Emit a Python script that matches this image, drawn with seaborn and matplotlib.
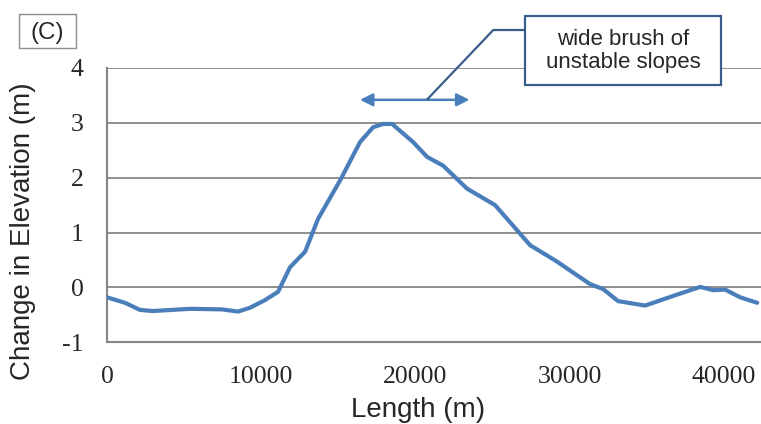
import matplotlib
matplotlib.use("Agg")
import matplotlib.pyplot as plt
from matplotlib.patches import Rectangle
from matplotlib.lines import Line2D
import seaborn as sns
import pandas as pd

# Elevation change profile along the channel
length_m = [0, 1167, 2140, 2983, 5383, 7458, 8495, 9274, 10246, 11090,
            11868, 12840, 13683, 15110, 16407, 17250, 17899, 18482, 19845,
            20752, 21790, 23346, 25162, 27432, 29183, 30480, 31323, 32166,
            33139, 34890, 36965, 38457, 39300, 40078, 41051, 42153]
elev_change = [-0.18, -0.28, -0.41, -0.43, -0.39, -0.40, -0.44, -0.37, -0.23,
               -0.08, 0.37, 0.65, 1.25, 1.95, 2.65, 2.92, 2.98, 2.98, 2.65,
               2.38, 2.22, 1.80, 1.50, 0.77, 0.47, 0.22, 0.06, -0.03, -0.25,
               -0.33, -0.13, 0.01, -0.05, -0.04, -0.18, -0.28]
x_ticks = [0, 10000, 20000, 30000, 40000]
y_ticks = [-1, 0, 1, 2, 3, 4]
brush_span = [16400, 23500]
brush_level = 3.42
panel_label = "(C)"
note_text = "wide brush of\nunstable slopes"

df = pd.DataFrame({"Length (m)": length_m, "Change in Elevation (m)": elev_change})

sns.set_style("white")
W, H = 761, 424
fig = plt.figure(figsize=(W / 100, H / 100), dpi=100)
ax = fig.add_axes([107 / W, 1 - 342.3 / H, 1 - 107 / W, (342.3 - 68) / H])

grid_col = "#868686"
for yv in y_ticks:
    ax.axhline(yv, color=grid_col, lw=1.3, zorder=1)

sns.lineplot(data=df, x="Length (m)", y="Change in Elevation (m)", ax=ax,
             color="#4a7ebb", lw=3.0, zorder=3)

ax.set_xlim(0, 42400)
ax.set_ylim(-1, 4)
ax.set_xticks(x_ticks)
ax.set_yticks(y_ticks)
ax.set_xticklabels([str(v) for v in x_ticks], family="Liberation Serif", fontsize=18.5)
ax.set_yticklabels([str(v) for v in y_ticks], family="Liberation Serif", fontsize=18.5)
ax.tick_params(axis="x", direction="in", length=5, width=1.2, color=grid_col, pad=17)
ax.tick_params(axis="y", length=0, pad=17)

for side in ("top", "right"):
    ax.spines[side].set_visible(False)
for side in ("left", "bottom"):
    ax.spines[side].set_color(grid_col)
    ax.spines[side].set_linewidth(1.5)

ax.set_xlabel("Length (m)", family="Liberation Sans", fontsize=20)
ax.set_ylabel("Change in Elevation (m)", family="Liberation Sans", fontsize=20)
ax.xaxis.set_label_coords(0.476, -0.200)
ax.yaxis.set_label_coords(-0.108, 0.404)

# double-headed arrow marking the unstable stretch
ax.annotate("", xy=(brush_span[0], brush_level), xytext=(brush_span[1], brush_level),
            arrowprops=dict(arrowstyle="<|-|>", color="#4a7ebb", lw=1.8,
                            mutation_scale=19, shrinkA=0, shrinkB=0))

def fx(px):
    return px / W

def fy(py):
    return 1 - py / H

# leader line to the callout
fig.add_artist(Line2D([fx(427.3), fx(493.3), fx(525)], [fy(99.3), fy(30), fy(30)],
                      transform=fig.transFigure, color="#385d8a", lw=1.6))

# callout box
fig.add_artist(Rectangle((fx(525), fy(85)), fx(721) - fx(525), fy(16.5) - fy(85),
                         transform=fig.transFigure, facecolor="white",
                         edgecolor="#385d8a", lw=1.6, zorder=5))
fig.text(fx(623), fy(51), note_text, ha="center", va="center", family="Liberation Sans",
         fontsize=16, linespacing=1.1, zorder=6)

# panel label
fig.add_artist(Rectangle((fx(19), fy(48)), fx(76) - fx(19), fy(14) - fy(48),
                         transform=fig.transFigure, facecolor="white",
                         edgecolor="#8c8c8c", lw=1.0, zorder=5))
fig.text(fx(47.5), fy(33.5), panel_label, ha="center", va="center", family="Liberation Sans",
         fontsize=17.5, zorder=6)

fig.savefig("out.png", dpi=100)
